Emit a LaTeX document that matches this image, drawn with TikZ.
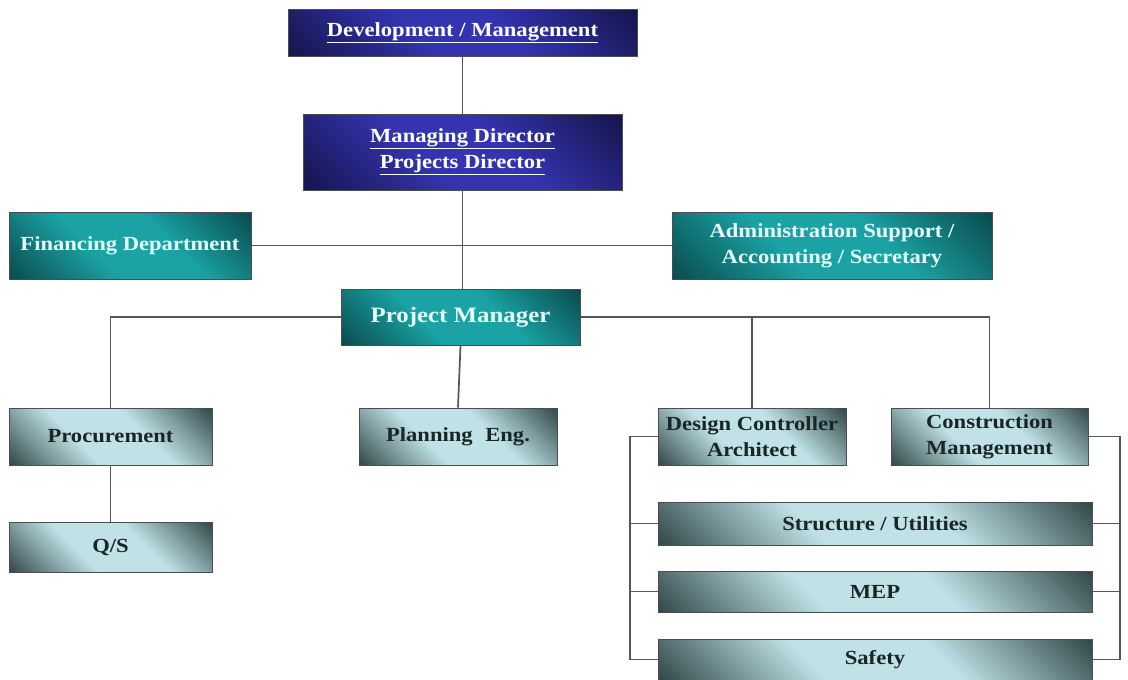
\documentclass[tikz,border=0pt]{standalone}
\usepackage{fontspec}
\setmainfont[FakeStretch=1.13]{Liberation Serif}
\definecolor{bD}{HTML}{14144A}
\definecolor{bL}{HTML}{3434B0}
\definecolor{tD}{HTML}{094547}
\definecolor{tL}{HTML}{1AA2A4}
\definecolor{lD}{HTML}{283E40}
\definecolor{lL}{HTML}{C0E2E6}
\definecolor{tTxt}{HTML}{E4FFFF}
\definecolor{lTxt}{HTML}{1A2626}
\definecolor{lineC}{HTML}{555555}
\pgfdeclareverticalshading{bluediag}{100bp}{color(0bp)=(bD); color(14bp)=(bD); color(42bp)=(bL); color(58bp)=(bL); color(86bp)=(bD); color(100bp)=(bD)}
\pgfdeclareverticalshading{tealdiag}{100bp}{color(0bp)=(tD); color(13bp)=(tD); color(40bp)=(tL); color(60bp)=(tL); color(87bp)=(tD); color(100bp)=(tD)}
\pgfdeclareverticalshading{lightdiag}{100bp}{color(0bp)=(lD); color(13bp)=(lD); color(40bp)=(lL); color(60bp)=(lL); color(87bp)=(lD); color(100bp)=(lD)}
\tikzset{
  box/.style={draw=black!70, line width=0.8pt, shade, shading angle=-45, inner sep=0pt, align=center,
    font=\fontsize{20}{26}\selectfont\bfseries},
  bluebox/.style={box, shading=bluediag, text=white},
  tealbox/.style={box, shading=tealdiag, text=tTxt},
  lightbox/.style={box, shading=lightdiag, text=lTxt},
  conn/.style={draw=lineC, line width=1.7pt}
}
\begin{document}
\begin{tikzpicture}[x=1pt,y=1pt]
\useasboundingbox (0,0) rectangle (1128,-680);
\node[bluebox, minimum width=349pt, minimum height=47pt] (dev) at (462.5,-32.5) {\raisebox{-2pt}{\underline{Development / Management}}};
\node[bluebox, minimum width=319pt, minimum height=76pt] (md) at (462.5,-152) {\underline{Managing Director}\\\underline{Projects Director}};
\node[tealbox, minimum width=242pt, minimum height=67pt] (fin) at (130,-245.5) {\raisebox{-2pt}{Financing Department}};
\node[tealbox, minimum width=320pt, minimum height=67pt] (adm) at (832,-245.5) {Administration Support /\\Accounting / Secretary};
\node[tealbox, minimum width=239pt, minimum height=56pt, font=\fontsize{22}{26}\selectfont\bfseries] (pm) at (460.5,-317) {\raisebox{-2pt}{Project Manager}};
\node[lightbox, minimum width=203pt, minimum height=57pt] (proc) at (110.5,-436.5) {\raisebox{-2pt}{Procurement}};
\node[lightbox, minimum width=198pt, minimum height=57pt] (plan) at (458,-436.5) {\raisebox{-2pt}{Planning\hspace{0.35em} Eng.}};
\node[lightbox, minimum width=188pt, minimum height=57pt] (des) at (752,-436.5) {Design Controller\\Architect};
\node[lightbox, minimum width=197pt, minimum height=57pt] (con) at (989.5,-436.5) {Construction\\Management};
\node[lightbox, minimum width=203pt, minimum height=50pt] (qs) at (110.5,-547) {\raisebox{-2pt}{Q/S}};
\node[lightbox, minimum width=434pt, minimum height=43pt] (str) at (875,-523.5) {\raisebox{-1pt}{Structure / Utilities}};
\node[lightbox, minimum width=434pt, minimum height=41pt] (mep) at (875,-591.5) {\raisebox{-1pt}{MEP}};
\node[lightbox, minimum width=434pt, minimum height=41pt] (saf) at (875,-659.5) {\raisebox{-1pt}{Safety}};
\coordinate (lb) at (630,-436.5);
\coordinate (rb) at (1120,-436.5);
\draw[conn] (dev.south) -- (md.north);
\draw[conn] (md.south) -- (md.south |- pm.north);
\draw[conn] (fin.east) -- (adm.west);
\draw[conn] (pm.west) -- (proc.north |- pm.west) -- (proc.north);
\draw[conn] (pm.east) -- (con.north |- pm.east) -- (con.north);
\draw[conn] (des.north |- pm.east) -- (des.north);
\draw[conn] (pm.south) -- (plan.north);
\draw[conn] (proc.south) -- (qs.north);
\draw[conn] (des.west) -- (lb) -- (lb |- saf.west) -- (saf.west);
\draw[conn] (lb |- str.west) -- (str.west);
\draw[conn] (lb |- mep.west) -- (mep.west);
\draw[conn] (con.east) -- (rb) -- (rb |- saf.east) -- (saf.east);
\draw[conn] (rb |- str.east) -- (str.east);
\draw[conn] (rb |- mep.east) -- (mep.east);
\end{tikzpicture}
\end{document}
